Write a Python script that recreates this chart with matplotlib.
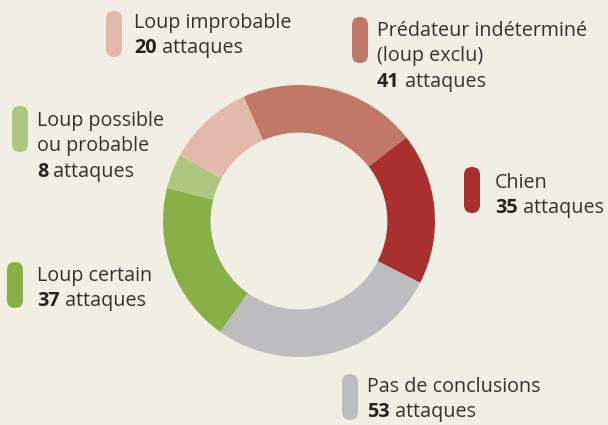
import matplotlib.pyplot as plt
from matplotlib.patches import FancyBboxPatch

# --- DONNEES ---
categories = ['Prédateur indéterminé\n(loup exclu)', 'Chien', 'Pas de conclusions',
              'Loup certain', 'Loup possible\nou probable', 'Loup improbable']
attaques = [41, 35, 53, 37, 8, 20]
couleurs = ['#c27868', '#a8302f', '#bdbdc0', '#88b046', '#adc67f', '#e2b9ab']

FOND = '#f1efe3'
W, H = 608, 425
FONT = 'Open Sans'
TAILLE = 14.2

fig = plt.figure(figsize=(W / 100, H / 100), dpi=100)
fig.patch.set_facecolor(FOND)
ax = fig.add_axes([0, 0, 1, 1])

# donut
ax.pie(attaques, colors=couleurs, startangle=114, counterclock=False,
       center=(299, H - 221), radius=136, frame=True,
       wedgeprops=dict(width=136 * 0.35, linewidth=0))
ax.set_xlim(0, W)
ax.set_ylim(0, H)
ax.set_aspect('equal')
ax.axis('off')

# position des legendes (pixels): pastille x, pastille y haut, texte x, premiere ligne
legendes = [
    (352, 17, 377, 36),    # Prédateur
    (464, 167, 495, 188),  # Chien
    (342, 374, 367, 392),  # Pas de conclusions
    (7, 262, 37, 281),     # Loup certain
    (12, 106, 37, 126),    # Loup possible
    (106, 11, 134, 28),    # Loup improbable
]
INTERLIGNE = 25.3

renderer = fig.canvas.get_renderer()
for nom, n, c, (px, py, tx, by) in zip(categories, attaques, couleurs, legendes):
    pastille = FancyBboxPatch((px, H - py - 46), 16, 46,
                              boxstyle='round,pad=0,rounding_size=8',
                              facecolor=c, edgecolor='none')
    ax.add_patch(pastille)
    lignes = nom.split('\n')
    for i, ligne in enumerate(lignes):
        ax.text(tx, H - (by + i * INTERLIGNE), ligne, fontsize=TAILLE, family=FONT,
                color='#333333', va='baseline', ha='left')
    yb = H - (by + len(lignes) * INTERLIGNE)
    t = ax.text(tx, yb, str(n), fontsize=TAILLE, family=FONT, fontweight='bold',
                color='#222222', va='baseline', ha='left')
    bb = t.get_window_extent(renderer=renderer)
    ax.text(bb.x1, yb, ' attaques', fontsize=TAILLE, family=FONT,
            color='#333333', va='baseline', ha='left')

fig.savefig('out.png', dpi=100, facecolor=FOND)
